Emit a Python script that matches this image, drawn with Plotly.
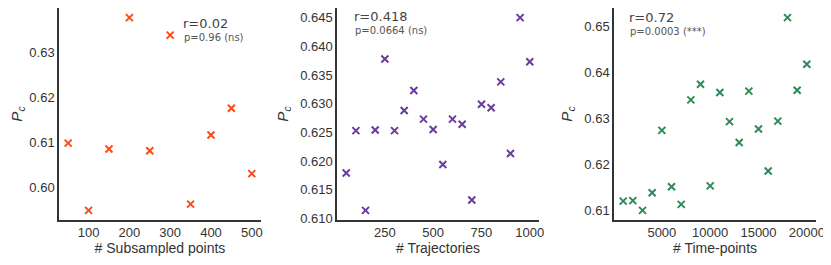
import plotly.graph_objects as go

# panel 1: subsampled points
sub_x = [50, 100, 150, 200, 250, 300, 350, 400, 450, 500]
sub_y = [0.6098, 0.5948, 0.6085, 0.6378, 0.6081, 0.6339, 0.5962, 0.6116, 0.6176, 0.6030]

# panel 2: trajectories
traj_x = [50, 100, 150, 200, 250, 300, 350, 400, 450, 500,
          550, 600, 650, 700, 750, 800, 850, 900, 950, 1000]
traj_y = [0.6179, 0.6253, 0.6114, 0.6254, 0.6378, 0.6253, 0.6288, 0.6323, 0.6273, 0.6255,
          0.6194, 0.6273, 0.6264, 0.6132, 0.6299, 0.6293, 0.6338, 0.6213, 0.6450, 0.6373]

# panel 3: time-points
time_x = [1000, 2000, 3000, 4000, 5000, 6000, 7000, 8000, 9000, 10000,
          11000, 12000, 13000, 14000, 15000, 16000, 17000, 18000, 19000, 20000]
time_y = [0.6121, 0.6122, 0.6101, 0.6139, 0.6274, 0.6152, 0.6114, 0.6340, 0.6374, 0.6154,
          0.6356, 0.6293, 0.6248, 0.6359, 0.6277, 0.6186, 0.6294, 0.6518, 0.6361, 0.6417]

r_labels = ["r=0.02", "r=0.418", "r=0.72"]
p_labels = ["p=0.96 (ns)", "p=0.0664 (ns)", "p=0.0003 (***)"]
x_titles = ["# Subsampled points", "# Trajectories", "# Time-points"]
colors = ["#FF4A14", "#6A3D9A", "#2E8B57"]

panels = [(sub_x, sub_y), (traj_x, traj_y), (time_x, time_y)]
domains = [[0, 0.2668], [0.3673, 0.634], [0.7332, 1]]
x_ticks = [[100, 200, 300, 400, 500], [250, 500, 750, 1000], [5000, 10000, 15000, 20000]]
y_ticks = [[0.60, 0.61, 0.62, 0.63],
           [0.610, 0.615, 0.620, 0.625, 0.630, 0.635, 0.640, 0.645],
           [0.61, 0.62, 0.63, 0.64, 0.65]]
y_fmt = [".2f", ".3f", ".2f"]
# annotation anchor (axes fraction)
ann_pos = [(0.605, 0.925), (0.076, 0.96), (0.063, 0.955)]

fig = go.Figure()
layout = {}
for i, (xs, ys) in enumerate(panels):
    n = "" if i == 0 else str(i + 1)
    fig.add_trace(go.Scatter(
        x=xs, y=ys, mode="markers",
        marker=dict(symbol="x-thin", size=7, line=dict(width=2, color=colors[i])),
        xaxis="x" + n, yaxis="y" + n, showlegend=False
    ))
    # matplotlib style 5% margins
    xr = max(xs) - min(xs)
    yr = max(ys) - min(ys)
    layout["xaxis" + n] = dict(
        domain=domains[i], anchor="y" + n, automargin=False,
        range=[min(xs) - 0.05 * xr, max(xs) + 0.05 * xr],
        tickvals=x_ticks[i], tickformat="d", showgrid=False, zeroline=False,
        showline=True, linecolor="#333", linewidth=1.5, ticks="",
        title=dict(text=x_titles[i], standoff=4, font=dict(size=14, color="#333")),
        tickfont=dict(size=13, color="#333"),
    )
    layout["yaxis" + n] = dict(
        domain=[0, 1], anchor="x" + n, automargin=False,
        range=[min(ys) - 0.05 * yr, max(ys) + 0.05 * yr],
        tickvals=y_ticks[i], tickformat=y_fmt[i], showgrid=False, zeroline=False,
        showline=True, linecolor="#333", linewidth=1.5, ticks="",
        title=dict(text="<i>P<sub>c</sub></i>", standoff=8, font=dict(size=15, color="#333")),
        tickfont=dict(size=13, color="#333"),
    )
    ax, ay = ann_pos[i]
    fig.add_annotation(text=r_labels[i], xref="x" + n + " domain", yref="y" + n + " domain",
                       x=ax, y=ay, xanchor="left", yanchor="middle", showarrow=False,
                       font=dict(family="DejaVu Sans", size=13, color="#444"))
    fig.add_annotation(text=p_labels[i], xref="x" + n + " domain", yref="y" + n + " domain",
                       x=ax + 0.005, y=ay - 0.066, xanchor="left", yanchor="middle", showarrow=False,
                       font=dict(family="DejaVu Sans", size=10, color="#555"))

fig.update_layout(**layout)
# page body adds an 8px margin, so the figure is 8px smaller each way
fig.update_layout(
    width=823, height=257,
    margin=dict(l=51, r=15, t=0, b=45),
    plot_bgcolor="white", paper_bgcolor="white",
    font=dict(family="Liberation Sans, Arial", color="#333"),
)

fig.write_html("out.html")
